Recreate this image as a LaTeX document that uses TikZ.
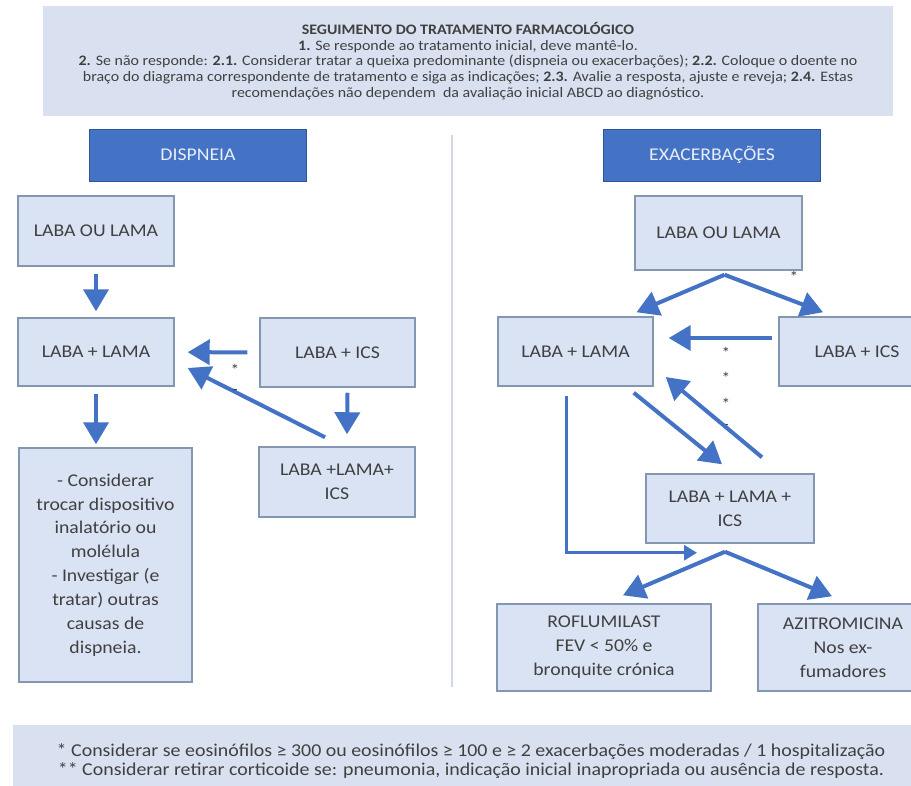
\documentclass[tikz,border=0pt]{standalone}
\usepackage{fontspec}
\setmainfont[FakeStretch=1.1]{Carlito}
\usepackage{tikz}
\usetikzlibrary{shapes.geometric, arrows.meta, calc, positioning}
\definecolor{boxfill}{HTML}{DAE3F3}
\definecolor{boxline}{HTML}{8497B0}
\definecolor{bandfill}{HTML}{D9E1F0}
\definecolor{darkblue}{HTML}{4472C4}
\definecolor{darkline}{HTML}{2F5597}
\definecolor{textgray}{HTML}{404040}
\definecolor{divline}{HTML}{D0D8E8}
\tikzstyle{box} = [rectangle, draw=boxline, fill=boxfill, line width=0.03cm, inner sep=0pt, align=center, text=textgray, font=\fontsize{10.2}{13.6}\selectfont]
\tikzstyle{sidetitle} = [rectangle, draw=darkline, fill=darkblue, line width=0.02cm, text=white!88!darkblue, minimum width=4.36cm, minimum height=1.04cm, font=\fontsize{10.2}{12}\selectfont]
\tikzstyle{band} = [rectangle, fill=bandfill, inner sep=0pt, align=center, text=textgray]
\tikzstyle{arrow} = [line width=0.08cm, darkblue, -{Triangle[length=0.44cm, width=0.5cm]}]
\tikzstyle{thinarrow} = [line width=0.06cm, darkblue, -{Triangle[length=0.26cm, width=0.3cm]}]
\tikzstyle{starmark} = [inner sep=0pt, text=textgray, font=\fontsize{9}{9}\selectfont]

\begin{document}
\begin{tikzpicture}[x=0.02cm, y=-0.02cm]
\clip (0,0) rectangle (911,785);
\fill[white] (0,0) rectangle (911,785);

\node[band, minimum width=17cm, minimum height=2.2cm, font=\fontsize{8.25}{9}\selectfont] (hdr) at (468,61) {\textbf{SEGUIMENTO DO TRATAMENTO FARMACOLÓGICO}\\
\textbf{1.} Se responde ao tratamento inicial, deve mantê-lo.\\
\textbf{2.} Se não responde: \textbf{2.1.} Considerar tratar a queixa predominante (dispneia ou exacerbações); \textbf{2.2.} Coloque o doente no\\
braço do diagrama correspondente de tratamento e siga as indicações; \textbf{2.3.} Avalie a resposta, ajuste e reveja; \textbf{2.4.} Estas\\
recomendações não dependem \ da avaliação inicial ABCD ao diagnóstico.};

\node[sidetitle] (dis) at (198,155) {DISPNEIA};
\node[sidetitle] (exa) at (712,155) {EXACERBAÇÕES};

\draw[divline, line width=0.04cm] (452,135) -- (452,687);

\node[box, minimum width=3.12cm, minimum height=1.4cm] (ouL) at (96,231) {LABA OU LAMA};
\node[box, minimum width=3.12cm, minimum height=1.36cm] (lamaL) at (96,352) {LABA + LAMA};
\node[box, minimum width=3.1cm, minimum height=1.38cm] (icsL) at (337.5,352.5) {LABA + ICS};
\node[box, minimum width=3.12cm, minimum height=1.4cm] (tripL) at (337,482) {LABA +LAMA+\\ ICS};
\node[box, minimum width=3.46cm, minimum height=4.68cm] (consL) at (105.5,565) {- Considerar\\ trocar dispositivo\\ inalatório ou\\ molélula\\ - Investigar (e\\ tratar) outras\\ causas de\\ dispneia.};

\draw[arrow, shorten <=0.14cm, shorten >=0.12cm] (ouL) -- (lamaL);
\draw[arrow, shorten <=0.24cm, shorten >=0.26cm] (icsL) -- (lamaL);
\draw[arrow] ([shift={(-12,-9)}]tripL.north) -- ([shift={(13,16)}]lamaL.east);
\draw[arrow] ([shift={(10,5)}]icsL.south) -- ([shift={(10,-12)}]tripL.north);
\draw[arrow] ([shift={(0,7)}]lamaL.south) -- ($(lamaL.south |- consL.north)+(0,-3)$);
\node[starmark] (starL) at (235,370) {*};
\node[starmark] (dashL) at (235,392) {-};

\node[box, minimum width=3.34cm, minimum height=1.48cm] (ouR) at (718.5,233) {LABA OU LAMA};
\node[box, minimum width=3.1cm, minimum height=1.38cm] (lamaR) at (575.5,351.5) {LABA + LAMA};
\node[box, minimum width=3.12cm, minimum height=1.38cm] (icsR) at (857,351.5) {LABA + ICS};
\node[box, minimum width=3.36cm, minimum height=1.38cm] (tripR) at (730,508.5) {LABA + LAMA +\\ ICS};
\node[box, minimum width=4.28cm, minimum height=1.74cm] (rofl) at (604,647.5) {ROFLUMILAST\\ FEV < 50\% e\\ bronquite crónica};
\node[box, minimum width=3.4cm, minimum height=1.74cm] (azit) at (843,647.5) {AZITROMICINA\\ Nos ex-\\ fumadores};

\draw[arrow] ([shift={(6,4)}]ouR.south) -- ([shift={(61,-4)}]lamaR.north);
\draw[arrow] ([shift={(6,4)}]ouR.south) -- ([shift={(-34,-4)}]icsR.north);
\node[starmark] (starR) at (794,277) {*};
\draw[arrow] ([shift={(-6,-13.5)}]icsR.west) -- ([shift={(15,-13.5)}]lamaR.east);
\node[starmark] (dotA) at (726,353) {*};
\node[starmark] (dotB) at (726,378) {*};
\node[starmark] (dotC) at (726,404) {*};
\node[starmark] (dashR) at (726,427) {-};
\draw[arrow] ([shift={(-20,6)}]lamaR.south east) -- ([shift={(-8,-9)}]tripR.north);
\draw[arrow] ([shift={(32,-16)}]tripR.north) -- ([shift={(12,25.5)}]lamaR.east);
\draw[thinarrow] ([shift={(-9.5,9)}]lamaR.south) |- ([shift={(-33,9)}]tripR.south);
\coordinate (fork) at ([shift={(-5,8)}]tripR.south);
\draw[arrow] (fork) -- ([shift={(19,-8)}]rofl.north);
\draw[arrow] (fork) -- ([shift={(-11,-7)}]azit.north);

\node[band, minimum width=18.32cm, minimum height=1.46cm, font=\fontsize{10.3}{10.8}\selectfont] (foot) at (471,761.5) {* Considerar se eosinófilos ≥ 300 ou eosinófilos ≥ 100 e ≥ 2 exacerbações moderadas / 1 hospitalização\\
** Considerar retirar corticoide se: pneumonia, indicação inicial inapropriada ou ausência de resposta.};
\end{tikzpicture}
\end{document}
